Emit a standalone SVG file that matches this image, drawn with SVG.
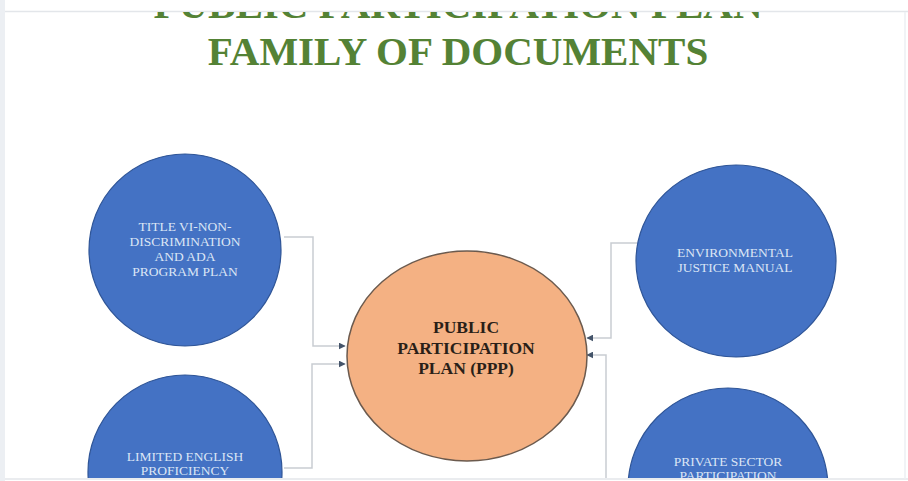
<svg xmlns="http://www.w3.org/2000/svg" width="908" height="481" viewBox="0 0 908 481">
  <defs>
    <clipPath id="page"><rect x="5" y="12" width="898" height="466"/></clipPath>
    <marker id="arr" viewBox="0 0 10 10" refX="9" refY="5" markerWidth="7" markerHeight="7" markerUnits="userSpaceOnUse" orient="auto">
      <path d="M0,0 L10,5 L0,10 z" fill="#44546a"/>
    </marker>
    <style>
      .title { font-family: "Liberation Serif", "Times New Roman", serif; font-weight: bold; font-size: 41px; fill: #548235; text-anchor: middle; }
      .blue { fill: #4472c4; stroke: #2f5597; stroke-width: 1.2; }
      .ppp { fill: #f4b183; stroke: #6b5a4e; stroke-width: 1.5; }
      .lbl { font-family: "Liberation Serif", "Times New Roman", serif; font-size: 13.5px; fill: #dbe5f5; text-anchor: middle; }
      .plbl { font-family: "Liberation Serif", "Times New Roman", serif; font-weight: bold; font-size: 17.5px; fill: #2a1f18; text-anchor: middle; }
      .conn { fill: none; stroke: #c9cdd2; stroke-width: 1.5; }
    </style>
  </defs>
  <rect x="0" y="0" width="908" height="481" fill="#ffffff"/>
  <rect x="0" y="0" width="5" height="481" fill="#eceff3"/>
  <line x1="5" y1="11.5" x2="908" y2="11.5" stroke="#e3e6ea" stroke-width="1.5"/>
  <line x1="5" y1="479" x2="908" y2="479" stroke="#e3e6ea" stroke-width="1.5"/>
  <line x1="905" y1="12" x2="905" y2="479" stroke="#eceff3" stroke-width="1.5"/>
  <g clip-path="url(#page)">
    <g id="title">
      <text class="title" x="458" y="18">PUBLIC PARTICIPATION PLAN</text>
      <text class="title" x="458" y="65">FAMILY OF DOCUMENTS</text>
    </g>
    <g id="connectors">
      <path class="conn" d="M284,237 H313 V346 H345" marker-end="url(#arr)"/>
      <path class="conn" d="M284,468 H312 V364 H345" marker-end="url(#arr)"/>
      <path class="conn" d="M637,243 H611 V338 H587" marker-end="url(#arr)"/>
      <path class="conn" d="M606,481 V355 H587" marker-end="url(#arr)"/>
    </g>
    <g id="node-title-vi">
      <circle class="blue" cx="185" cy="250" r="96"/>
      <text class="lbl" x="185" y="231">TITLE VI-NON-</text>
      <text class="lbl" x="185" y="246">DISCRIMINATION</text>
      <text class="lbl" x="185" y="261">AND ADA</text>
      <text class="lbl" x="185" y="276">PROGRAM PLAN</text>
    </g>
    <g id="node-lep">
      <circle class="blue" cx="185" cy="472" r="97"/>
      <text class="lbl" x="185" y="461">LIMITED ENGLISH</text>
      <text class="lbl" x="185" y="475">PROFICIENCY</text>
    </g>
    <g id="node-ej">
      <ellipse class="blue" cx="736" cy="261" rx="100" ry="96"/>
      <text class="lbl" x="735" y="257">ENVIRONMENTAL</text>
      <text class="lbl" x="735" y="272">JUSTICE MANUAL</text>
    </g>
    <g id="node-private">
      <ellipse class="blue" cx="728" cy="488" rx="100" ry="100"/>
      <text class="lbl" x="728" y="466">PRIVATE SECTOR</text>
      <text class="lbl" x="728" y="480">PARTICIPATION</text>
    </g>
    <g id="node-ppp">
      <ellipse class="ppp" cx="467" cy="356" rx="120" ry="105"/>
      <text class="plbl" x="466" y="333">PUBLIC</text>
      <text class="plbl" x="466" y="354">PARTICIPATION</text>
      <text class="plbl" x="466" y="374">PLAN (PPP)</text>
    </g>
  </g>
</svg>
